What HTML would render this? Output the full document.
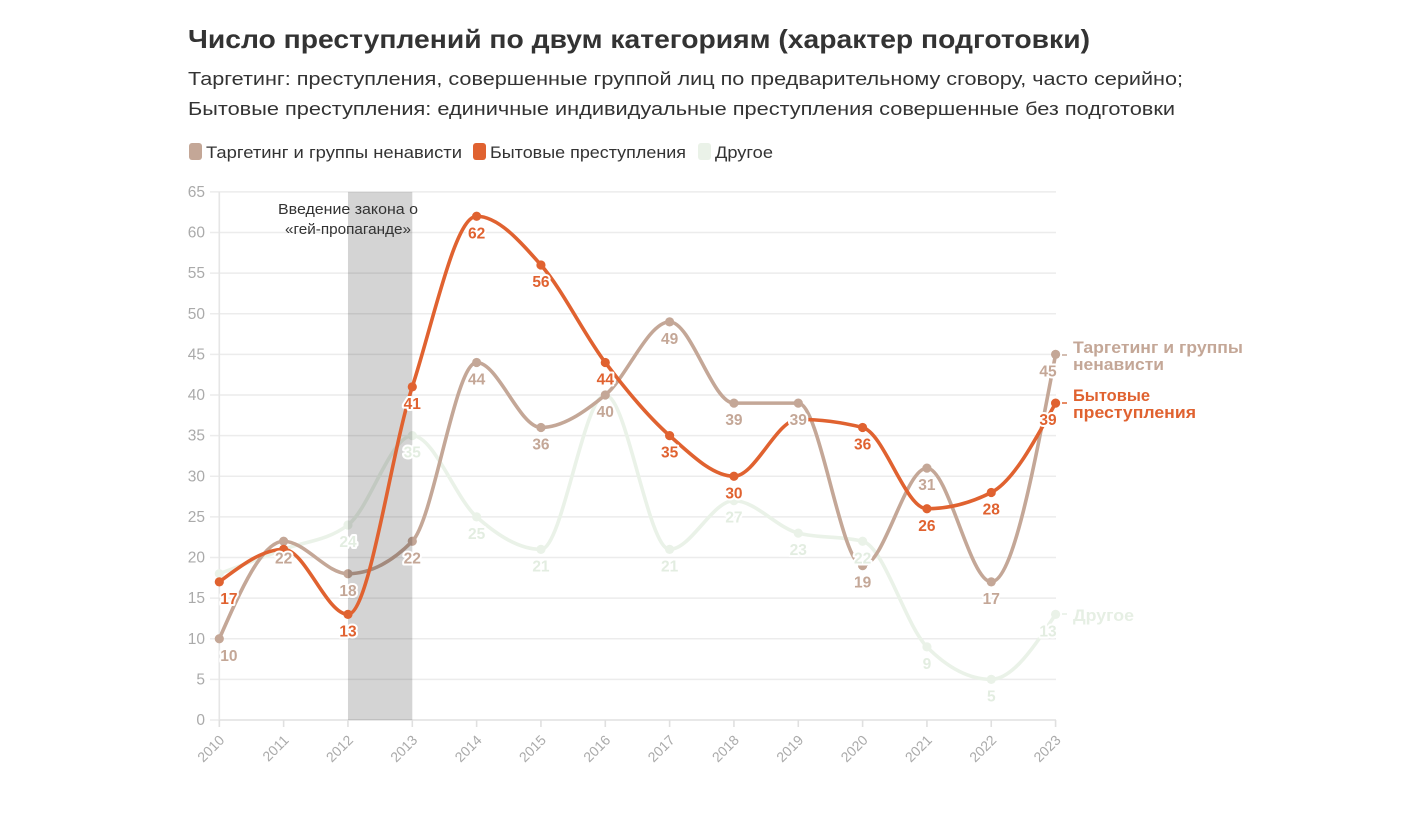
<!DOCTYPE html>
<html><head><meta charset="utf-8"><style>
html,body{margin:0;padding:0;background:#fff;}
svg{display:block;font-family:"Liberation Sans",sans-serif;}
</style></head><body>
<svg id="s" width="1422" height="818" viewBox="0 0 1422 818" xmlns="http://www.w3.org/2000/svg">
<text x="188" y="48" font-size="26" font-weight="bold" fill="#333" textLength="902" lengthAdjust="spacingAndGlyphs">Число преступлений по двум категориям (характер подготовки)</text>
<text x="188" y="85" font-size="18" fill="#333" textLength="995" lengthAdjust="spacingAndGlyphs">Таргетинг: преступления, совершенные группой лиц по предварительному сговору, часто серийно;</text>
<text x="188" y="115" font-size="18" fill="#333" textLength="987" lengthAdjust="spacingAndGlyphs">Бытовые преступления: единичные индивидуальные преступления совершенные без подготовки</text>
<rect x="189" y="143" width="13" height="17" rx="3" fill="#c4a797"/>
<text x="206" y="158" font-size="16.5" fill="#333" textLength="256" lengthAdjust="spacingAndGlyphs">Таргетинг и группы ненависти</text>
<rect x="473" y="143" width="13" height="17" rx="3" fill="#e06230"/>
<text x="490" y="158" font-size="16.5" fill="#333" textLength="196" lengthAdjust="spacingAndGlyphs">Бытовые преступления</text>
<rect x="698" y="143" width="13" height="17" rx="3" fill="#eaf2e8"/>
<text x="715" y="158" font-size="16.5" fill="#333" textLength="58" lengthAdjust="spacingAndGlyphs">Другое</text>
<g id="grid"></g>
<g id="lines"></g>
<g id="labels"></g>
<text x="348" y="214" font-size="15" fill="#333" text-anchor="middle" textLength="140" lengthAdjust="spacingAndGlyphs">Введение закона о</text>
<text x="348" y="234" font-size="15" fill="#333" text-anchor="middle" textLength="126" lengthAdjust="spacingAndGlyphs">«гей-пропаганде»</text>
<g font-size="17" font-weight="bold">
<line x1="1062" y1="355" x2="1067" y2="355" stroke="#c4a797" stroke-width="1.5"/>
<text x="1073" y="353" fill="#c4a797" textLength="170" lengthAdjust="spacingAndGlyphs">Таргетинг и группы</text>
<text x="1073" y="370" fill="#c4a797" textLength="91" lengthAdjust="spacingAndGlyphs">ненависти</text>
<line x1="1062" y1="403" x2="1067" y2="403" stroke="#e06230" stroke-width="1.5"/>
<text x="1073" y="401" fill="#e06230" textLength="77" lengthAdjust="spacingAndGlyphs">Бытовые</text>
<text x="1073" y="418" fill="#e06230" textLength="123" lengthAdjust="spacingAndGlyphs">преступления</text>
<line x1="1062" y1="614" x2="1067" y2="614" stroke="#e6efe4" stroke-width="1.5"/>
<text x="1073" y="621" fill="#e6efe4" textLength="61" lengthAdjust="spacingAndGlyphs">Другое</text>
</g>
</svg>
<script>
(function(){
var NS="http://www.w3.org/2000/svg";
function el(tag,attrs,parent,txt){var e=document.createElementNS(NS,tag);for(var k in attrs)e.setAttribute(k,attrs[k]);if(txt!==undefined)e.textContent=txt;parent.appendChild(e);return e;}
var X=function(i){return 219.3+i*64.33;};
var Y=function(v){return 720-8.125*v;};
var grid=document.getElementById('grid');
for(var v=0;v<=65;v+=5){
  el('line',{x1:210,x2:1056,y1:Y(v),y2:Y(v),stroke:'#ececec','stroke-width':1.6},grid);
  el('text',{x:205,y:Y(v)+5,'font-size':15.5,fill:'#aaa','text-anchor':'end'},grid,String(v));
}
el('line',{x1:219.3,x2:219.3,y1:Y(65),y2:727,stroke:'#e6e6e6','stroke-width':1.6},grid);
el('line',{x1:219.3,x2:1056,y1:720,y2:720,stroke:'#e3e3e3','stroke-width':1.6},grid);
for(var i=0;i<14;i++){
  var x=X(i);
  el('line',{x1:x,x2:x,y1:720,y2:727,stroke:'#e0e0e0','stroke-width':1.6},grid);
  el('text',{x:x+6,y:741,'font-size':14,fill:'#aaa','text-anchor':'end',transform:'rotate(-45 '+(x+6)+' 741)'},grid,String(2010+i));
}
var T=[10,22,18,22,44,36,40,49,39,39,19,31,17,45];
var O=[17,21,13,41,62,56,44,35,30,37,36,26,28,39];
var P=[18,21,24,35,25,21,40,21,27,23,22,9,5,13];
function sign(a){return a<0?-1:1;}
function mono(vals){
  var xs=vals.map(function(v,i){return X(i);}),ys=vals.map(Y),n=xs.length,t=new Array(n);
  for(var i=1;i<n-1;i++){
    var h0=xs[i]-xs[i-1],h1=xs[i+1]-xs[i],s0=(ys[i]-ys[i-1])/h0,s1=(ys[i+1]-ys[i])/h1,p=(s0*h1+s1*h0)/(h0+h1);
    t[i]=(sign(s0)+sign(s1))*Math.min(Math.abs(s0),Math.abs(s1),0.5*Math.abs(p))||0;
  }
  var h=xs[1]-xs[0];t[0]=(3*(ys[1]-ys[0])/h-t[1])/2;
  h=xs[n-1]-xs[n-2];t[n-1]=(3*(ys[n-1]-ys[n-2])/h-t[n-2])/2;
  var d='M'+xs[0]+','+ys[0];
  for(var i=0;i<n-1;i++){
    var dx=(xs[i+1]-xs[i])/3;
    d+='C'+(xs[i]+dx)+','+(ys[i]+dx*t[i])+' '+(xs[i+1]-dx)+','+(ys[i+1]-dx*t[i+1])+' '+xs[i+1]+','+ys[i+1];
  }
  return d;
}
var lines=document.getElementById('lines');
function series(vals,col){
  el('path',{d:mono(vals),fill:'none',stroke:col,'stroke-width':3.6,'stroke-linecap':'round'},lines);
  vals.forEach(function(v,i){el('circle',{cx:X(i),cy:Y(v),r:4.6,fill:col},lines);});
}
series(P,'#eaf2e8');
series(T,'#c4a797');
el('rect',{x:X(2),y:Y(65),width:X(3)-X(2),height:720-Y(65),fill:'#000','fill-opacity':0.17},lines);
series(O,'#e06230');
var labels=document.getElementById('labels');
function lab(vals,col,skip){
  vals.forEach(function(v,i){
    if(skip.indexOf(i)>=0)return;
    var x=X(i),anchor='middle';
    if(i===0){anchor='start';x=X(0)+1;}
    if(i===13){anchor='end';x=X(13)+1;}
    el('text',{x:x,y:Y(v)+22,'font-size':15.5,'font-weight':'bold',fill:col,'text-anchor':anchor,stroke:'#fff','stroke-width':4,'stroke-linejoin':'round','paint-order':'stroke'},labels,String(v));
  });
}
lab(P,'#e3ede1',[0,1,6]);
lab(T,'#c4a797',[]);
lab(O,'#e06230',[1,9]);
})();
</script>
</body></html>
